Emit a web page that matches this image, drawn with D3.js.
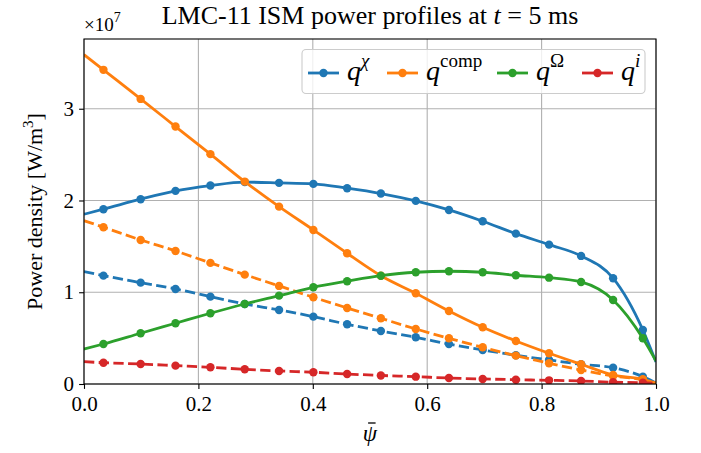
<!DOCTYPE html>
<html>
<head>
<meta charset="utf-8">
<script src="https://cdn.jsdelivr.net/npm/d3@7"></script>
<style>
  html, body { margin: 0; padding: 0; background: #fff; }
  svg { display: block; }
  text { font-family: "Liberation Serif", "Times New Roman", serif; fill: #000; }
</style>
</head>
<body>
<svg id="chart" width="701" height="453"></svg>
<script>
// ---- data (values in units of 1e7 W/m^3) ----
const psi = [0, 0.034, 0.099, 0.160, 0.221, 0.281, 0.341, 0.401, 0.460, 0.519, 0.580, 0.638, 0.697, 0.755, 0.813, 0.869, 0.925, 0.977, 1.0];
const qChiSolid  = [1.85, 1.905, 2.014, 2.105, 2.163, 2.200, 2.192, 2.181, 2.134, 2.076, 1.996, 1.897, 1.774, 1.639, 1.519, 1.396, 1.153, 0.589, 0.24];
const qChiDashed = [1.225, 1.181, 1.105, 1.036, 0.952, 0.872, 0.807, 0.734, 0.651, 0.578, 0.509, 0.436, 0.371, 0.313, 0.262, 0.215, 0.178, 0.080, 0.01];
const qCompSolid = [3.59, 3.424, 3.107, 2.806, 2.505, 2.206, 1.933, 1.679, 1.425, 1.180, 0.989, 0.796, 0.618, 0.469, 0.335, 0.215, 0.098, 0.051, 0.01];
const qCompDashed= [1.78, 1.709, 1.570, 1.450, 1.320, 1.192, 1.069, 0.945, 0.829, 0.716, 0.600, 0.498, 0.400, 0.309, 0.226, 0.153, 0.087, 0.044, 0.0];
const qOmegaSolid= [0.38, 0.436, 0.553, 0.662, 0.771, 0.872, 0.963, 1.054, 1.120, 1.180, 1.218, 1.229, 1.218, 1.185, 1.159, 1.112, 0.916, 0.498, 0.25];
const qIonDashed = [0.243, 0.232, 0.218, 0.200, 0.182, 0.160, 0.142, 0.128, 0.109, 0.093, 0.080, 0.065, 0.055, 0.047, 0.040, 0.033, 0.019, 0.014, 0.005];

const xTicks = [0.0, 0.2, 0.4, 0.6, 0.8, 1.0];
const yTicks = [0, 1, 2, 3];
const titleText = "LMC-11 ISM power profiles at ";
const colors = { chi: "#1f77b4", comp: "#ff7f0e", omega: "#2ca02c", ion: "#d62728" };

const seriesList = [
  { values: qChiSolid,   color: colors.chi,   dashed: false },
  { values: qChiDashed,  color: colors.chi,   dashed: true },
  { values: qCompSolid,  color: colors.comp,  dashed: false },
  { values: qCompDashed, color: colors.comp,  dashed: true },
  { values: qOmegaSolid, color: colors.omega, dashed: false },
  { values: qIonDashed,  color: colors.ion,   dashed: true }
];

// ---- layout ----
const L = 84, R = 656, T = 39, B = 384;
const svg = d3.select("#chart");
const x = d3.scaleLinear().domain([0, 1]).range([L, R]);
const y = d3.scaleLinear().domain([0, 3.76]).range([B, T]);

// grid
const grid = svg.append("g");
grid.selectAll("line.gx").data(xTicks).join("line")
  .attr("x1", d => x(d)).attr("x2", d => x(d)).attr("y1", T).attr("y2", B)
  .attr("stroke", "#b0b0b0").attr("stroke-width", 1.1);
grid.selectAll("line.gy").data(yTicks).join("line")
  .attr("x1", L).attr("x2", R).attr("y1", d => y(d)).attr("y2", d => y(d))
  .attr("stroke", "#b0b0b0").attr("stroke-width", 1.1);

// clip
svg.append("clipPath").attr("id", "clip").append("rect")
  .attr("x", L).attr("y", T).attr("width", R - L).attr("height", B - T);

const plot = svg.append("g").attr("clip-path", "url(#clip)");
const line = d3.line().x((d, i) => x(psi[i])).y(d => y(d)).curve(d3.curveMonotoneX);

seriesList.forEach(s => {
  const g = plot.append("g");
  g.append("path").datum(s.values)
    .attr("d", line).attr("fill", "none")
    .attr("stroke", s.color).attr("stroke-width", 2.8)
    .attr("stroke-dasharray", s.dashed ? "10.3,4.4" : null);
  g.selectAll("circle").data(s.values.slice(1, -1)).join("circle")
    .attr("cx", (d, i) => x(psi[i + 1])).attr("cy", d => y(d))
    .attr("r", 4.2).attr("fill", s.color);
});

// axes
const xAxis = d3.axisBottom(x).tickValues(xTicks).tickFormat(d3.format(".1f")).tickSize(4.9).tickPadding(5);
const yAxis = d3.axisLeft(y).tickValues(yTicks).tickFormat(d3.format("d")).tickSize(4.9).tickPadding(5);
const gx = svg.append("g").attr("transform", `translate(0,${B})`).call(xAxis);
const gy = svg.append("g").attr("transform", `translate(${L},0)`).call(yAxis);
[gx, gy].forEach(g => {
  g.select(".domain").remove();
  g.selectAll(".tick line").attr("stroke", "#000").attr("stroke-width", 1.1);
  g.selectAll(".tick text").attr("font-family", "Liberation Serif, serif").attr("font-size", 21).attr("fill", "#000");
});
gx.selectAll(".tick text").attr("dy", null).attr("y", 27);

// frame
svg.append("rect").attr("x", L).attr("y", T).attr("width", R - L).attr("height", B - T)
  .attr("fill", "none").attr("stroke", "#000").attr("stroke-width", 1.1);

// title
const title = svg.append("text").attr("x", (L + R) / 2).attr("y", 24)
  .attr("text-anchor", "middle").attr("font-size", 26);
title.append("tspan").text(titleText);
title.append("tspan").attr("font-style", "italic").text("t");
title.append("tspan").text(" = 5 ms");

// offset text
const off = svg.append("text").attr("x", L).attr("y", 31).attr("font-size", 19);
off.append("tspan").text("×10");
off.append("tspan").attr("dy", -9).attr("font-size", 14).text("7");

// x label: psi with bar
const xl = svg.append("text").attr("x", (L + R) / 2).attr("y", 441)
  .attr("text-anchor", "middle").attr("font-size", 23).attr("font-style", "italic").text("ψ");
const xb = xl.node().getBBox();
svg.append("line").attr("x1", xb.x + xb.width * 0.35).attr("x2", xb.x + xb.width * 0.85)
  .attr("y1", xb.y + 2).attr("y2", xb.y + 2).attr("stroke", "#000").attr("stroke-width", 1.3);

// y label
const yl = svg.append("text").attr("transform", `translate(42,${(T + B) / 2}) rotate(-90)`)
  .attr("text-anchor", "middle").attr("font-size", 22);
yl.append("tspan").text("Power density [W/m");
yl.append("tspan").attr("dy", -9).attr("font-size", 15).text("3");
yl.append("tspan").attr("dy", 9).text("]");

// legend
const legendItems = [
  { color: colors.chi, sup: "χ", supItalic: true, hx: 308, tx: 347 },
  { color: colors.comp, sup: "comp", supItalic: false, hx: 387, tx: 426 },
  { color: colors.omega, sup: "Ω", supItalic: false, hx: 497, tx: 536 },
  { color: colors.ion, sup: "i", supItalic: true, hx: 582, tx: 621 }
];
const lg = svg.append("g");
lg.append("rect").attr("x", 302).attr("y", 49.5).attr("width", 343).attr("height", 44)
  .attr("rx", 4).attr("fill", "#fff").attr("fill-opacity", 0.8)
  .attr("stroke", "#cccccc").attr("stroke-width", 1.1);
legendItems.forEach(it => {
  lg.append("line").attr("x1", it.hx).attr("x2", it.hx + 31).attr("y1", 73).attr("y2", 73)
    .attr("stroke", it.color).attr("stroke-width", 2.8);
  lg.append("circle").attr("cx", it.hx + 15.5).attr("cy", 73).attr("r", 4.2).attr("fill", it.color);
  const t = lg.append("text").attr("x", it.tx).attr("y", 80).attr("font-size", 28);
  t.append("tspan").attr("font-style", "italic").text("q");
  t.append("tspan").attr("dy", -13).attr("font-size", 19)
    .attr("font-style", it.supItalic ? "italic" : "normal").text(it.sup);
});
</script>
</body>
</html>
